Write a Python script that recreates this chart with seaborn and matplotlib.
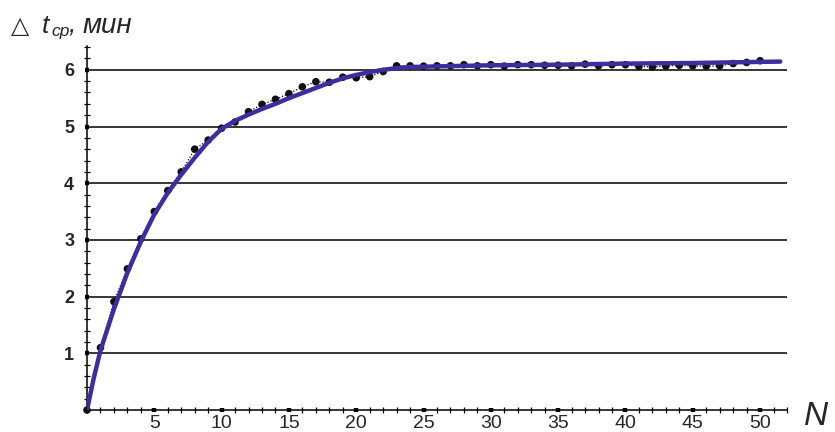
import numpy as np
import pandas as pd
import matplotlib
matplotlib.use("Agg")
import matplotlib.pyplot as plt
from matplotlib.ticker import MultipleLocator
import seaborn as sns

# -------------------------------
# Data
# -------------------------------
n_points = list(range(0, 51))
t_points = [0.0, 1.10, 1.91, 2.49, 3.02, 3.50, 3.87, 4.20, 4.60, 4.76,
            4.97, 5.08, 5.26, 5.39, 5.48, 5.58, 5.70, 5.79, 5.78, 5.87,
            5.86, 5.88, 5.97, 6.07, 6.07, 6.065, 6.07, 6.07, 6.09, 6.07,
            6.09, 6.065, 6.09, 6.09, 6.08, 6.08, 6.07, 6.10, 6.07, 6.09,
            6.09, 6.06, 6.05, 6.065, 6.08, 6.07, 6.065, 6.07, 6.11, 6.13,
            6.16]

n_fit = [0, 0.5, 1, 2, 3, 4, 5, 6, 7, 8, 9, 10, 11, 12, 13, 14, 15, 16,
         17, 18, 19, 20, 21, 22, 23, 24, 26, 30, 35, 40, 45, 50, 51.5]
t_fit = [0.0, 0.56, 1.05, 1.78, 2.42, 2.97, 3.45, 3.83, 4.15, 4.45, 4.73,
         4.96, 5.10, 5.21, 5.31, 5.40, 5.50, 5.59, 5.68, 5.77, 5.85, 5.91,
         5.96, 6.00, 6.03, 6.05, 6.06, 6.08, 6.09, 6.11, 6.12, 6.14, 6.145]

x_major = [5, 10, 15, 20, 25, 30, 35, 40, 45, 50]
y_major = [1, 2, 3, 4, 5, 6]

pts = pd.DataFrame({"N": n_points, "t": t_points})
fit = pd.DataFrame({"N": n_fit, "t": t_fit})

# -------------------------------
# Style
# -------------------------------
sns.set_style("white")
plt.rcParams['font.family'] = ['Liberation Sans', 'DejaVu Sans']

W, H = 835, 432
fig = plt.figure(figsize=(W / 100, H / 100), dpi=100)
ax = fig.add_axes([87 / W, 22 / H, 700 / W, 364 / H])

blue = "#3b2e9e"

# dotted line through the measured points
sns.lineplot(data=pts, x="N", y="t", ax=ax, color="black", lw=0.9,
             linestyle=(0, (1, 1.5)), zorder=3)
sns.scatterplot(data=pts, x="N", y="t", ax=ax, color="#111111", s=30,
                edgecolor="none", zorder=4, clip_on=False)
# fitted curve
sns.lineplot(data=fit, x="N", y="t", ax=ax, color=blue, lw=3.2, zorder=5)

ax.set_xlim(0, 52)
ax.set_ylim(0, 6.42)

for y in y_major:
    ax.axhline(y, color="black", lw=1.1, zorder=1)

ax.set_xticks(x_major)
ax.set_yticks(y_major)
ax.xaxis.set_minor_locator(MultipleLocator(1))
ax.yaxis.set_minor_locator(MultipleLocator(0.2))
ax.tick_params(which="major", direction="inout", length=3.5, width=3.2,
               color="black")
ax.tick_params(axis="x", which="major", labelsize=14, pad=1.5)
ax.tick_params(axis="y", which="major", labelsize=13, pad=7.5)
ax.tick_params(which="minor", direction="inout", length=5, width=0.9,
               color="black")
ax.tick_params(left=True, bottom=True, which="both")

for lab in ax.get_yticklabels():
    lab.set_fontweight("bold")

sns.despine(ax=ax)
for s in ["left", "bottom"]:
    ax.spines[s].set_linewidth(1.1)
    ax.spines[s].set_color("black")

ax.set_xlabel("")
ax.set_ylabel("")

# axis titles
fig.text(804 / W, 1 - 425 / H, "N", fontsize=24, style="italic",
         va="baseline", ha="left")
fig.text(11 / W, 1 - 33 / H, "\u25b3", fontsize=17, va="baseline",
         family=["DejaVu Sans"])
fig.text(42 / W, 1 - 33 / H, "t", fontsize=19, style="italic",
         va="baseline")
fig.text(51 / W, 1 - 36 / H, "ср", fontsize=12.5, style="italic",
         va="baseline")
fig.text(69 / W, 1 - 33 / H, ",", fontsize=19, style="italic",
         va="baseline")
fig.text(83 / W, 1 - 33 / H, "мин", fontsize=20, style="italic",
         va="baseline")

fig.savefig("out.png", dpi=100)
